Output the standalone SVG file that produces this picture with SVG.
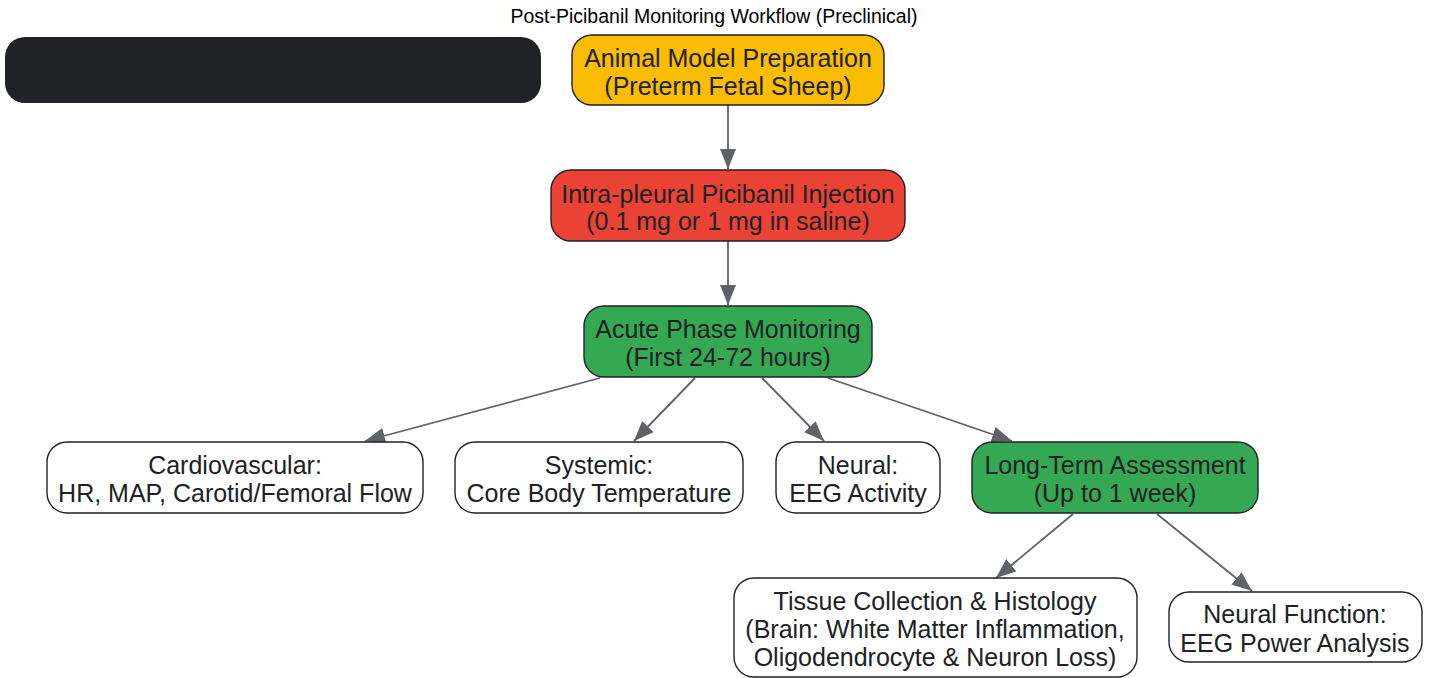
<svg xmlns="http://www.w3.org/2000/svg" width="1430" height="678" viewBox="0 0 1430 678">
<defs>
<marker id="ah" viewBox="0 0 20 16" refX="20" refY="8" markerWidth="20" markerHeight="16" markerUnits="userSpaceOnUse" orient="auto">
<path d="M0,0 L20,8 L0,16 z" fill="#5f6368"/>
</marker>
<style>
.t{font-family:"Liberation Sans",Arial,sans-serif;font-size:25px;fill:#202124;text-anchor:middle}
.n{stroke:#202124;stroke-width:1.4}
.e{stroke:#5f6368;stroke-width:1.8;fill:none;marker-end:url(#ah)}
</style>
</defs>
<rect width="1430" height="678" fill="#ffffff"/>
<text x="714" y="23" style="font-family:'Liberation Sans',Arial,sans-serif;font-size:19.5px;fill:#000;text-anchor:middle">Post-Picibanil Monitoring Workflow (Preclinical)</text>
<g id="legend"><rect x="5" y="37" width="536" height="66" rx="20" fill="#212226"/></g>
<g id="edges">
<path class="e" d="M728,105 L728,169"/>
<path class="e" d="M728,241 L728,305"/>
<path class="e" d="M600,378 L365,441"/>
<path class="e" d="M695,378 L634,441"/>
<path class="e" d="M762,378 L824,441"/>
<path class="e" d="M828,378 L1012,441"/>
<path class="e" d="M1073,514 L996,578"/>
<path class="e" d="M1157,514 L1252,591"/>
</g>
<g id="n1"><rect class="n" x="572" y="35" width="312" height="70" rx="20" fill="#fbbc04"/><text class="t" x="728" y="67">Animal Model Preparation</text><text class="t" x="728" y="95">(Preterm Fetal Sheep)</text></g>
<g id="n2"><rect class="n" x="551" y="170" width="354" height="71" rx="20" fill="#ea4335"/><text class="t" x="728" y="203">Intra-pleural Picibanil Injection</text><text class="t" x="728" y="230">(0.1 mg or 1 mg in saline)</text></g>
<g id="n3"><rect class="n" x="584" y="306" width="288" height="71" rx="20" fill="#34a853"/><text class="t" x="728" y="338">Acute Phase Monitoring</text><text class="t" x="728" y="366">(First 24-72 hours)</text></g>
<g id="n4"><rect class="n" x="47" y="442" width="376" height="71" rx="20" fill="#ffffff"/><text class="t" x="235" y="474">Cardiovascular:</text><text class="t" x="235" y="502">HR, MAP, Carotid/Femoral Flow</text></g>
<g id="n5"><rect class="n" x="455" y="442" width="288" height="71" rx="20" fill="#ffffff"/><text class="t" x="599" y="474">Systemic:</text><text class="t" x="599" y="502">Core Body Temperature</text></g>
<g id="n6"><rect class="n" x="776" y="442" width="164" height="71" rx="20" fill="#ffffff"/><text class="t" x="858" y="474">Neural:</text><text class="t" x="858" y="502">EEG Activity</text></g>
<g id="n7"><rect class="n" x="972" y="442" width="286" height="71" rx="20" fill="#34a853"/><text class="t" x="1115" y="474">Long-Term Assessment</text><text class="t" x="1115" y="502">(Up to 1 week)</text></g>
<g id="n8"><rect class="n" x="734" y="578" width="403" height="99" rx="20" fill="#ffffff"/><text class="t" x="935" y="610">Tissue Collection &amp; Histology</text><text class="t" x="935" y="638">(Brain: White Matter Inflammation,</text><text class="t" x="935" y="666">Oligodendrocyte &amp; Neuron Loss)</text></g>
<g id="n9"><rect class="n" x="1169" y="592" width="253" height="70" rx="20" fill="#ffffff"/><text class="t" x="1295" y="623">Neural Function:</text><text class="t" x="1295" y="652">EEG Power Analysis</text></g>
</svg>
